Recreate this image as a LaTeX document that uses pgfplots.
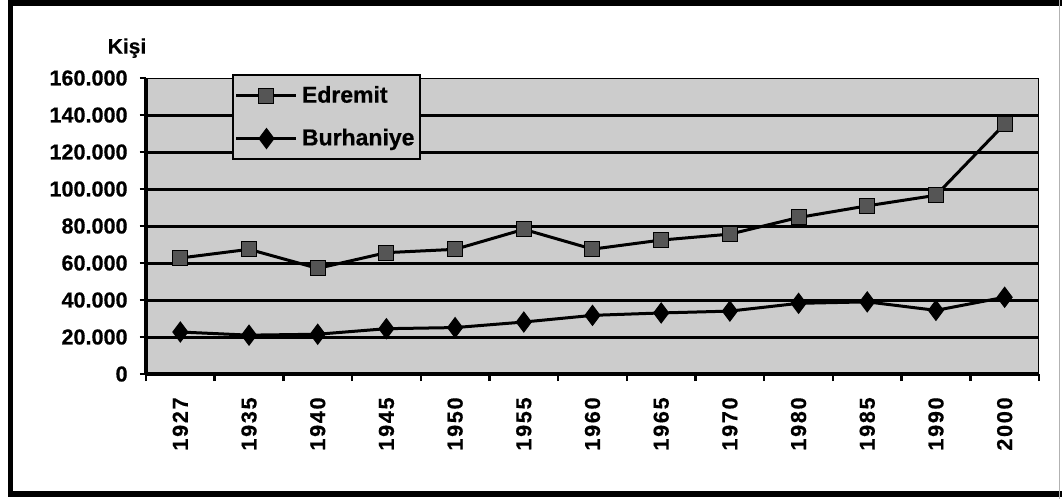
\documentclass[border=0pt]{standalone}
\usepackage{fontspec}
\setmainfont{Liberation Sans}
\newfontfamily\hv{Liberation Sans Bold}[FakeBold=0.6]
\newfontfamily\xfont{Liberation Sans Bold}[LetterSpace=8,FakeBold=0.6]
\usepackage{pgfplots}
\pgfplotsset{compat=1.18}
\definecolor{bgpat}{RGB}{204,204,204}
\definecolor{markfill}{RGB}{85,85,85}
\begin{document}
\begin{tikzpicture}
\useasboundingbox (0,0) rectangle (531pt,-249.5pt);
\fill[white] (0,0) rectangle (531pt,-249.5pt);
\draw[line width=2.6pt,line cap=rect] (5.3pt,-1.5pt) -- (5.3pt,-247pt);
\draw[line width=2.6pt] (4pt,-1.5pt) -- (531pt,-1.5pt);
\draw[line width=2.6pt] (4pt,-247pt) -- (531pt,-247pt);
\draw[line width=0.6pt,gray!60] (529.8pt,0) -- (529.8pt,-249.5pt);
\begin{axis}[
  at={(73pt,-187pt)}, anchor=south west,
  width=446.5pt, height=148pt, scale only axis,
  xmin=-0.5, xmax=12.5, ymin=0, ymax=160000,
  axis background/.style={fill=bgpat},
  axis line style={line width=0.5pt},
  xtick={0,...,12},
  xticklabels={1927,1935,1940,1945,1950,1955,1960,1965,1970,1980,1985,1990,2000},
  minor xtick={-0.5,0.5,...,12.5},
  xtick pos=bottom, ytick pos=left,
  every major x tick/.style={draw=none},
  every minor x tick/.style={line width=1.2pt,black},
  minor tick length=3.5pt,
  major tick length=3pt,
  tick align=outside,
  ytick={0,20000,...,160000},
  every major y tick/.style={line width=1.2pt,black},
  extra y ticks={20000,40000,60000,80000,100000,120000,140000},
  extra y tick labels={},
  extra y tick style={grid=major, major grid style={line width=1.5pt,black}},
  scaled y ticks=false,
  yticklabel={\pgfmathprintnumber[1000 sep={.},fixed]{\tick}},
  /pgf/number format/assume math mode=true,
  yticklabel style={font=\hv\fontsize{10.8}{12}\selectfont, inner sep=0pt, xshift=-6pt},
  xticklabel style={font=\xfont\fontsize{10.8}{12}\selectfont, rotate=90, anchor=east, inner sep=0pt},
  xticklabel shift=8.5pt,
  legend style={at={(0.0963,1.0135)}, anchor=north west, fill=bgpat, draw=black, line width=1pt,
    font=\hv\fontsize{11.5}{13}\selectfont, inner xsep=1pt, inner ysep=3.5pt, row sep=7.5pt},
  legend cell align=left,
  legend image code/.code={\draw[mark repeat=2,mark phase=2] plot coordinates {(0pt,0pt)(15pt,0pt)(30pt,0pt)};},
  clip=false,
]
\draw[line width=1.6pt] (rel axis cs:0,0) -- (rel axis cs:0,1);
\draw[line width=1.6pt] (rel axis cs:0,0) -- (rel axis cs:1,0);
\addplot[black, line width=1.5pt, mark=square*, mark size=3.75pt, mark options={fill=markfill, draw=black, line width=0.5pt}]
  coordinates {(0,62700)(1,67400)(2,57100)(3,65600)(4,67400)(5,78200)(6,67500)(7,72400)(8,75600)(9,84600)(10,90900)(11,96600)(12,135100)};
\addlegendentry{Edremit}
\addplot[black, line width=1.5pt, mark=diamond*, mark size=5pt, mark options={fill=black, draw=black, line width=0.5pt}]
  coordinates {(0,22700)(1,21000)(2,21500)(3,24500)(4,25100)(5,28100)(6,31700)(7,33000)(8,34000)(9,38200)(10,39000)(11,34400)(12,41500)};
\addlegendentry{Burhaniye}
\node[font=\hv\fontsize{10.5}{12}\selectfont, anchor=south] at ([xshift=-9.5pt,yshift=6.5pt]rel axis cs:0,1) {Kişi};
\end{axis}
\end{tikzpicture}
\end{document}
